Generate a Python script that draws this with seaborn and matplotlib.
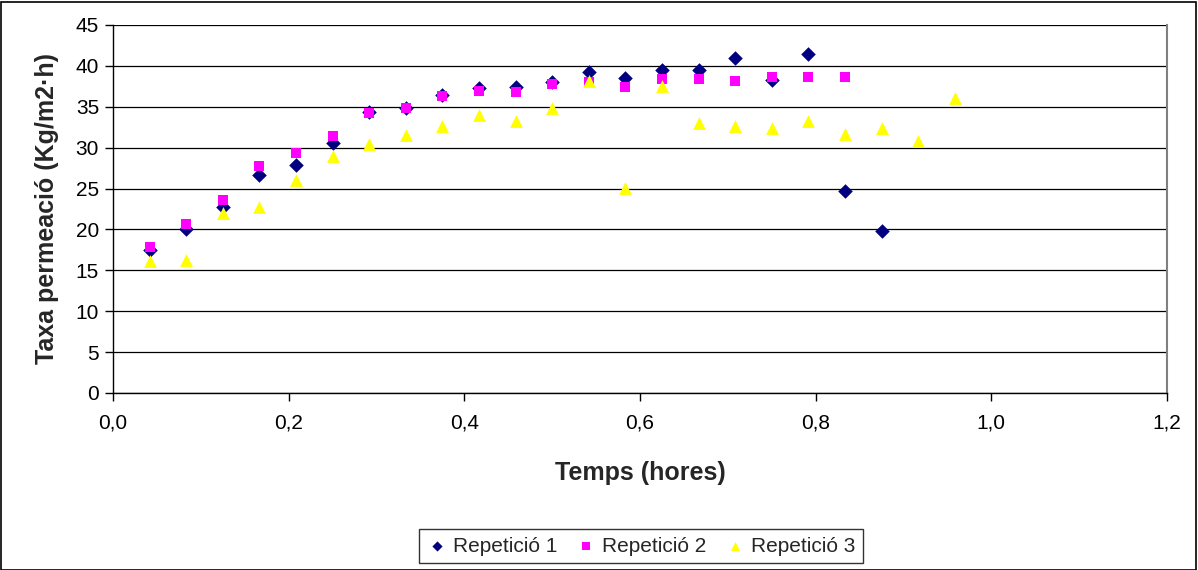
import numpy as np
import pandas as pd
import matplotlib
matplotlib.use("Agg")
import matplotlib.pyplot as plt
import seaborn as sns
from matplotlib.patches import Rectangle
from matplotlib.ticker import FuncFormatter, MultipleLocator

# ---- data ----
step = 1 / 24
temps1 = [step * i for i in range(1, 22)]
temps2 = [step * i for i in range(1, 21)]
temps3 = [step * i for i in range(1, 24)]

rep1 = [17.5, 20.0, 22.7, 26.6, 27.9, 30.6, 34.4, 34.8, 36.4, 37.3, 37.4,
        38.0, 39.3, 38.5, 39.5, 39.5, 41.0, 38.3, 41.5, 24.7, 19.8]
rep2 = [17.9, 20.7, 23.6, 27.8, 29.3, 31.4, 34.2, 34.8, 36.3, 36.9, 36.8,
        37.8, 38.0, 37.4, 38.4, 38.4, 38.2, 38.6, 38.6, 38.6]
rep3 = [16.1, 16.3, 22.0, 22.8, 26.0, 29.0, 30.4, 31.5, 32.6, 34.0, 33.2,
        34.9, 38.2, 25.1, 37.6, 33.0, 32.6, 32.4, 33.2, 31.7, 32.4, 30.8, 36.1]

series_names = ["Repetició 1", "Repetició 2", "Repetició 3"]
x_label = "Temps (hores)"
y_label = "Taxa permeació (Kg/m2·h)"

df = pd.concat([
    pd.DataFrame({"t": temps1, "v": rep1, "serie": series_names[0]}),
    pd.DataFrame({"t": temps2, "v": rep2, "serie": series_names[1]}),
    pd.DataFrame({"t": temps3, "v": rep3, "serie": series_names[2]}),
], ignore_index=True)

# ---- style ----
sns.set_theme(style="white")
plt.rcParams["font.family"] = ["Liberation Sans", "DejaVu Sans"]

fig = plt.figure(figsize=(11.98, 5.70), dpi=100)
ax = fig.add_axes([113 / 1198, 1 - 393 / 570, (1167 - 113) / 1198, (393 - 25) / 570])

palette = {series_names[0]: "#000080", series_names[1]: "#FF00FF", series_names[2]: "#FFFF00"}
markers = {series_names[0]: "D", series_names[1]: "s", series_names[2]: "^"}
sizes = {series_names[0]: 55, series_names[1]: 60, series_names[2]: 85}

for name in series_names:
    sub = df[df["serie"] == name]
    sns.scatterplot(data=sub, x="t", y="v", ax=ax, color=palette[name],
                    marker=markers[name], s=sizes[name], linewidth=0,
                    label=name, zorder=3)

ax.set_xlim(0, 1.2)
ax.set_ylim(0, 45)
ax.xaxis.set_major_locator(MultipleLocator(0.2))
ax.yaxis.set_major_locator(MultipleLocator(5))
ax.xaxis.set_major_formatter(FuncFormatter(lambda v, p: f"{v:.1f}".replace(".", ",")))
ax.yaxis.set_major_formatter(FuncFormatter(lambda v, p: f"{int(round(v))}"))

ax.yaxis.grid(True, color="black", linewidth=0.9)
ax.xaxis.grid(False)
ax.set_axisbelow(True)

for side in ["left", "bottom"]:
    ax.spines[side].set_color("black")
    ax.spines[side].set_linewidth(1.0)
ax.spines["top"].set_visible(False)
ax.spines["right"].set_color("#808080")
ax.spines["right"].set_linewidth(1.5)

ax.tick_params(axis="both", which="major", direction="out", length=6, width=1,
               color="black", labelsize=15, labelcolor="black", pad=4)
ax.tick_params(axis="x", pad=9)
ax.tick_params(left=True, bottom=True)

ax.set_xlabel(x_label, fontsize=18, fontweight="bold", labelpad=20)
ax.set_ylabel(y_label, fontsize=18, fontweight="bold", labelpad=12)

leg = ax.legend(loc="center", bbox_to_anchor=(641 / 1198, 1 - 546 / 570),
                bbox_transform=fig.transFigure, ncol=3, frameon=True,
                fontsize=15, handletextpad=0.25, columnspacing=0.9,
                borderpad=0.35, handlelength=1.0, markerscale=0.7, fancybox=False)
leg.get_frame().set_edgecolor("black")
leg.get_frame().set_linewidth(1.0)

fig.patches.append(Rectangle((1 / 1198, 0), 1 - 3 / 1198, 1 - 1.5 / 570,
                             transform=fig.transFigure, fill=False,
                             edgecolor="black", linewidth=1.2))

fig.savefig("out.png", dpi=100)
